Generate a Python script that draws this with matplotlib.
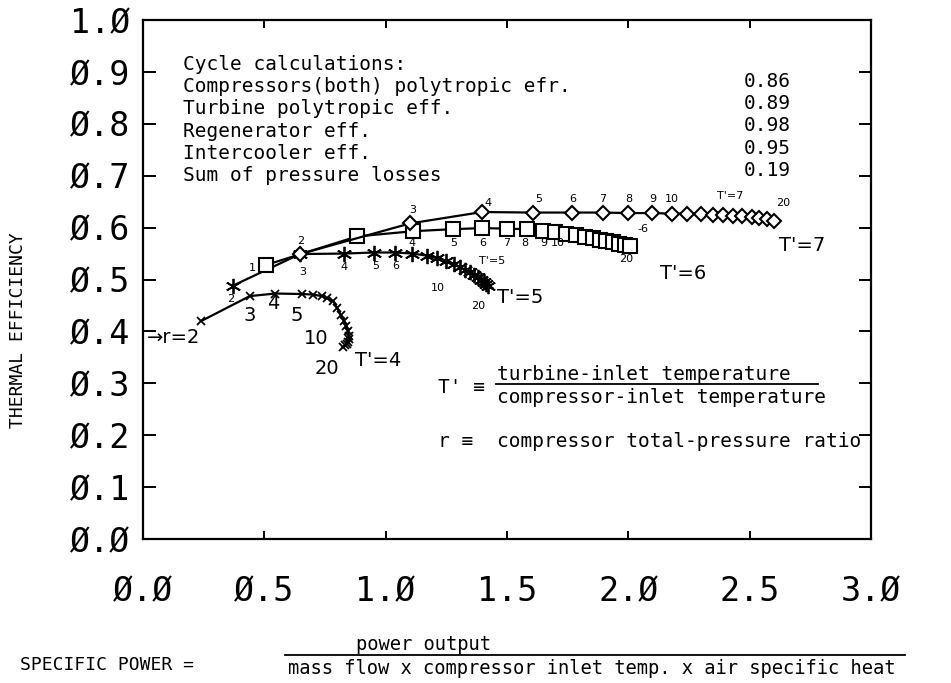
import matplotlib
matplotlib.use("Agg")
import matplotlib.pyplot as plt

plt.rcParams["font.family"] = ["DejaVu Sans Mono", "DejaVu Sans"]

# compressor pressure ratio r for each marker on the curves
ratios = list(range(2, 21))

# T' = 4
sp4 = [0.24, 0.44, 0.545, 0.655, 0.70, 0.737, 0.758, 0.783, 0.80, 0.815,
       0.828, 0.838, 0.845, 0.848, 0.848, 0.845, 0.84, 0.832, 0.824]
eta4 = [0.42, 0.468, 0.473, 0.472, 0.471, 0.468, 0.464, 0.459, 0.445, 0.432,
        0.42, 0.41, 0.40, 0.392, 0.386, 0.38, 0.376, 0.373, 0.37]

# T' = 5
sp5 = [0.37, 0.647, 0.83, 0.95, 1.04, 1.11, 1.17, 1.21, 1.25, 1.28,
       1.305, 1.327, 1.347, 1.365, 1.38, 1.393, 1.404, 1.413, 1.42]
eta5 = [0.488, 0.549, 0.55, 0.552, 0.552, 0.55, 0.546, 0.541, 0.535, 0.53,
        0.524, 0.519, 0.514, 0.509, 0.504, 0.5, 0.496, 0.492, 0.488]

# T' = 6
sp6 = [0.507, 0.882, 1.112, 1.277, 1.397, 1.50, 1.582, 1.648, 1.698, 1.745,
       1.785, 1.82, 1.855, 1.885, 1.91, 1.935, 1.96, 1.985, 2.005]
eta6 = [0.528, 0.583, 0.593, 0.597, 0.599, 0.598, 0.597, 0.594, 0.591, 0.588,
        0.585, 0.582, 0.579, 0.577, 0.574, 0.572, 0.569, 0.567, 0.564]

# T' = 7
sp7 = [0.647, 1.10, 1.397, 1.607, 1.768, 1.895, 1.998, 2.097, 2.18, 2.24,
       2.30, 2.35, 2.39, 2.43, 2.47, 2.51, 2.54, 2.57, 2.60]
eta7 = [0.549, 0.608, 0.630, 0.629, 0.629, 0.629, 0.628, 0.628, 0.627, 0.627,
        0.626, 0.625, 0.624, 0.623, 0.622, 0.62, 0.618, 0.616, 0.612]

xticks = [0.0, 0.5, 1.0, 1.5, 2.0, 2.5, 3.0]
xtick_labels = ["Ø.Ø", "Ø.5", "1.Ø", "1.5", "2.Ø", "2.5", "3.Ø"]
yticks = [0.0, 0.1, 0.2, 0.3, 0.4, 0.5, 0.6, 0.7, 0.8, 0.9, 1.0]
ytick_labels = ["Ø.Ø", "Ø.1", "Ø.2", "Ø.3", "Ø.4", "Ø.5", "Ø.6", "Ø.7", "Ø.8", "Ø.9", "1.Ø"]

cycle_items = ["Cycle calculations:",
               "Compressors(both) polytropic efr.",
               "Turbine polytropic eff.",
               "Regenerator eff.",
               "Intercooler eff.",
               "Sum of pressure losses"]
cycle_values = ["0.86", "0.89", "0.98", "0.95", "0.19"]

fig = plt.figure(figsize=(9.51, 6.83), dpi=100)
ax = fig.add_axes([143 / 951, 1 - 539 / 683, 728 / 951, 519 / 683])

ax.plot(sp4, eta4, color="black", lw=1.6, marker="x", ms=6, mew=1.3)
ax.plot(sp5, eta5, color="black", lw=1.6, marker=(6, 2, 0), ms=11, mew=1.3)
ax.plot(sp6, eta6, color="black", lw=1.6, marker="s", ms=10, mew=1.5, mfc="white")
ax.plot(sp7, eta7, color="black", lw=1.6, marker="D", ms=7, mew=1.5, mfc="white")

ax.set_xlim(0, 3)
ax.set_ylim(0, 1)
ax.set_xticks(xticks)
ax.set_xticklabels(xtick_labels)
ax.set_yticks(yticks)
ax.set_yticklabels(ytick_labels)
ax.tick_params(direction="in", top=True, right=True, width=1.4, labelsize=24)
ax.tick_params(axis="y", length=9, pad=9)
ax.tick_params(axis="x", length=6, pad=26)
for s in ax.spines.values():
    s.set_linewidth(1.6)

# parameter block
ty = 0.915
for line in cycle_items:
    ax.text(0.165, ty, line, fontsize=14, va="center")
    ty -= 0.043
vy = 0.882
for v in cycle_values:
    ax.text(2.67, vy, v, fontsize=14, va="center", ha="right")
    vy -= 0.043

# curve labels, T'=4 (large)
big = dict(fontsize=14, family="DejaVu Sans", va="center", ha="center")
ax.text(0.44, 0.43, "3", **big)
ax.text(0.536, 0.453, "4", **big)
ax.text(0.635, 0.43, "5", **big)
ax.text(0.713, 0.386, "10", **big)
ax.text(0.758, 0.328, "20", **big)
ax.text(0.875, 0.344, "T'=4", fontsize=14, family="DejaVu Sans", va="center")
ax.text(0.016, 0.388, "→r=2", fontsize=14, family="DejaVu Sans", va="center")

# curve labels (small)
small = dict(fontsize=8, family="DejaVu Sans", va="center", ha="center")
for x, y, s in [(0.36, 0.463, "2"), (0.66, 0.515, "3"), (0.83, 0.524, "4"),
                (0.96, 0.526, "5"), (1.04, 0.526, "6"), (1.215, 0.484, "10"),
                (1.38, 0.449, "20"), (1.44, 0.535, "T'=5")]:
    ax.text(x, y, s, **small)
for x, y, s in [(0.45, 0.522, "1"), (1.11, 0.57, "4"), (1.28, 0.57, "5"),
                (1.40, 0.57, "6"), (1.50, 0.57, "7"), (1.575, 0.57, "8"),
                (1.65, 0.57, "9"), (1.71, 0.57, "10"), (1.99, 0.54, "20"),
                (2.06, 0.598, "-6")]:
    ax.text(x, y, s, **small)
for x, y, s in [(0.65, 0.575, "2"), (1.11, 0.633, "3"), (1.42, 0.648, "4"),
                (1.63, 0.656, "5"), (1.77, 0.656, "6"), (1.895, 0.656, "7"),
                (2.0, 0.656, "8"), (2.1, 0.656, "9"), (2.18, 0.656, "10"),
                (2.42, 0.66, "T'=7"), (2.64, 0.647, "20")]:
    ax.text(x, y, s, **small)

ax.text(1.458, 0.465, "T'=5", fontsize=14, family="DejaVu Sans", va="center")
ax.text(2.13, 0.512, "T'=6", fontsize=14, family="DejaVu Sans", va="center")
ax.text(2.62, 0.565, "T'=7", fontsize=14, family="DejaVu Sans", va="center")

# definitions
ax.text(1.215, 0.292, "T' ≡", fontsize=14, va="center")
ax.text(1.458, 0.317, "turbine-inlet temperature", fontsize=14, va="center")
ax.plot([1.455, 2.78], [0.298, 0.298], color="black", lw=1.3)
ax.text(1.458, 0.273, "compressor-inlet temperature", fontsize=14, va="center")
ax.text(1.215, 0.188, "r ≡", fontsize=14, va="center")
ax.text(1.458, 0.188, "compressor total-pressure ratio", fontsize=14, va="center")

# axis titles
fig.text(18 / 951, 1 - 330 / 683, "THERMAL EFFICIENCY", rotation=90,
         fontsize=13, va="center", ha="center")
fig.text(20 / 951, 1 - 665 / 683, "SPECIFIC POWER =", fontsize=13, va="center")
fig.text(356 / 951, 1 - 645 / 683, "power output", fontsize=13.5, va="center")
fig.add_artist(plt.Line2D([285 / 951, 905 / 951], [1 - 655 / 683, 1 - 655 / 683],
                          color="black", lw=1.3))
fig.text(288 / 951, 1 - 668 / 683,
         "mass flow x compressor inlet temp. x air specific heat",
         fontsize=13.5, va="center")

fig.savefig("out.png", dpi=100)
